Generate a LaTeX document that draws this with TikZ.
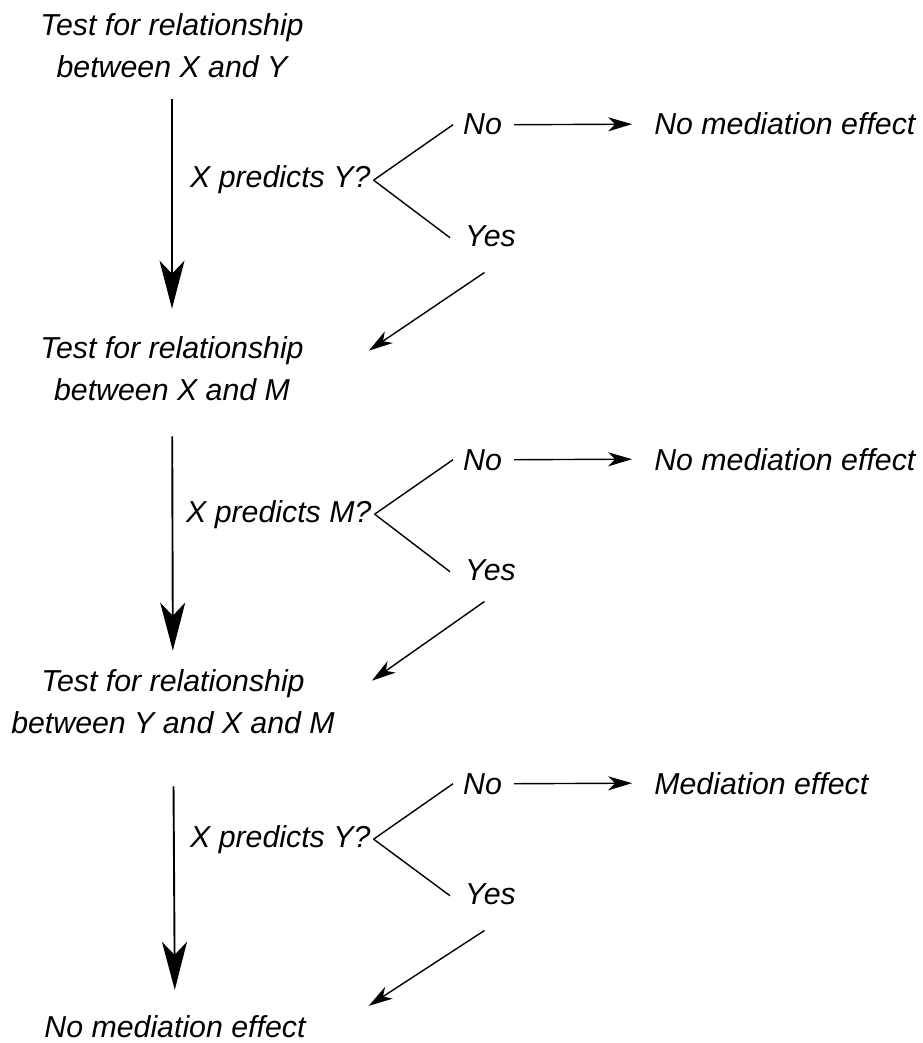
\documentclass[tikz,border=0pt]{standalone}
\usepackage{fontspec}
\setmainfont{Liberation Sans}
\usepackage{tikz}
\usetikzlibrary{positioning}
\usetikzlibrary{arrows.meta}

\tikzset{
	txt/.style={inner sep=0pt, font=\itshape\fontsize{30.3}{42}\selectfont},
	blk/.style={txt, align=center},
	bigarr/.style={line width=1.9pt, -{Stealth[length=48pt,width=25pt,inset=13pt]}},
	smallarr/.style={line width=1.4pt, -{Stealth[length=24pt,width=14pt,inset=7pt]}},
	branch/.style={line width=1.4pt}
}

\begin{document}
\begin{tikzpicture}[x=1pt,y=-1pt]
		\useasboundingbox (0,0) rectangle (922,1043);

		\node[blk] (t1) at (172,46) {Test for relationship\\between X and Y};
		\node[blk] (t2) at (172,369) {Test for relationship\\between X and M};
		\node[blk] (t3) at (173,702) {Test for relationship\\between Y and X and M};
		\node[txt,anchor=base] (t4) at (175,1037) {No mediation effect};

		\node[txt,anchor=base west] (q1) at (190,188) {X predicts Y?};
		\node[txt,anchor=base west] (no1) at (463,135) {No};
		\node[txt,anchor=base west] (yes1) at (465,246) {Yes};
		\node[txt] (r1) [base right = 152pt of no1] {No mediation effect};

		\node[txt,anchor=base west] (q2) at (186,522) {X predicts M?};
		\node[txt,anchor=base west] (no2) at (463,470) {No};
		\node[txt,anchor=base west] (yes2) at (465,580) {Yes};
		\node[txt] (r2) [base right = 152pt of no2] {No mediation effect};

		\node[txt,anchor=base west] (q3) at (190,847) {X predicts Y?};
		\node[txt,anchor=base west] (no3) at (463,794) {No};
		\node[txt,anchor=base west] (yes3) at (465,904) {Yes};
		\node[txt] (r3) [base right = 152pt of no3] {Mediation effect};

		\draw[bigarr, shorten <=21pt, shorten >=28pt] (t1) edge (t2);
		\draw[bigarr, shorten <=35pt, shorten >=19pt] (t2) edge (t3);
		\draw[bigarr, shorten <=52pt, shorten >=25pt] (t3) edge (t4);

		\draw[branch] ([xshift=3pt]q1.east) -- ([xshift=-10pt]no1.west);
		\draw[branch] ([xshift=3pt]q1.east) -- ([shift={(-15,2)}]yes1.west);
		\draw[smallarr] ([xshift=12pt]no1.east) -- ([xshift=-22pt]r1.west);
		\draw[smallarr] ([shift={(-6,26)}]yes1.south) -- ([shift={(65,14)}]t2.north east);

		\draw[branch] ([xshift=3pt]q2.east) -- ([xshift=-10pt]no2.west);
		\draw[branch] ([xshift=3pt]q2.east) -- ([shift={(-15,2)}]yes2.west);
		\draw[smallarr] ([xshift=12pt]no2.east) -- ([xshift=-22pt]r2.west);
		\draw[smallarr] ([shift={(-6,21)}]yes2.south) -- ([shift={(37,11)}]t3.north east);

		\draw[branch] ([xshift=3pt]q3.east) -- ([xshift=-10pt]no3.west);
		\draw[branch] ([xshift=3pt]q3.east) -- ([shift={(-15,2)}]yes3.west);
		\draw[smallarr] ([xshift=12pt]no3.east) -- ([xshift=-22pt]r3.west);
		\draw[smallarr] ([shift={(-6,26)}]yes3.south) -- ([shift={(63,-9)}]t4.north east);
	\end{tikzpicture}
\end{document}
